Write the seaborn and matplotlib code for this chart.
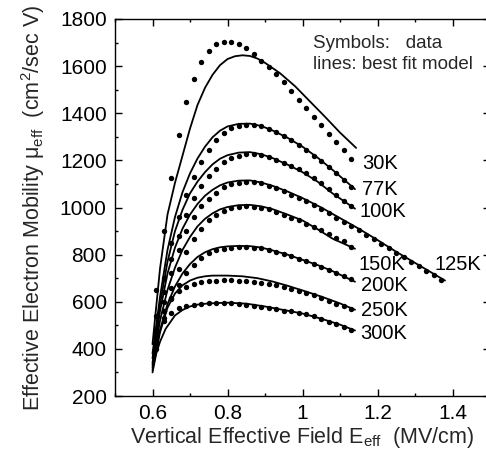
import numpy as np
import pandas as pd
import matplotlib
matplotlib.use("Agg")
import matplotlib.pyplot as plt
import seaborn as sns

# ---------------- data ----------------
x_dots = [0.61, 0.63, 0.65, 0.67, 0.69, 0.71, 0.73, 0.75, 0.77, 0.79, 0.81, 0.83,
          0.85, 0.87, 0.89, 0.91, 0.93, 0.95, 0.97, 0.99, 1.01, 1.03, 1.05, 1.07,
          1.09, 1.11, 1.13]
x_dots_125 = x_dots + [1.15, 1.17, 1.19, 1.21, 1.23, 1.25, 1.27, 1.29, 1.31, 1.33, 1.35, 1.37]

dots_30K = [648, 901, 1127, 1307, 1446, 1546, 1618, 1665, 1694, 1704, 1704, 1694,
            1676, 1652, 1623, 1596, 1568, 1532, 1496, 1458, 1423, 1385, 1349, 1314,
            1277, 1244, 1207]
dots_77K = [540, 700, 850, 960, 1055, 1130, 1195, 1245, 1285, 1318, 1338, 1348,
            1352, 1350, 1344, 1334, 1320, 1305, 1285, 1265, 1243, 1220, 1196, 1170,
            1145, 1115, 1085]
dots_100K = [480, 640, 780, 880, 970, 1040, 1092, 1132, 1165, 1193, 1208, 1218,
             1225, 1225, 1221, 1213, 1203, 1190, 1178, 1163, 1148, 1126, 1102, 1078,
             1053, 1029, 1005]
dots_125K = [450, 600, 720, 820, 900, 960, 1005, 1035, 1060, 1085, 1098, 1106,
             1110, 1108, 1102, 1092, 1081, 1068, 1055, 1042, 1026, 1010, 993, 975,
             957, 940, 922, 903, 884, 865, 846, 827, 808, 789, 770, 751, 732, 713, 694]
dots_150K = [420, 560, 660, 740, 810, 865, 910, 945, 968, 985, 996, 1002,
             1005, 1004, 1000, 992, 982, 970, 957, 945, 932, 918, 903, 888,
             872, 856, 832]
dots_200K = [400, 520, 610, 670, 720, 755, 785, 805, 818, 825, 829, 831,
             832, 830, 826, 820, 812, 803, 793, 782, 771, 760, 748, 736,
             723, 710, 697]
dots_250K = [440, 560, 615, 645, 663, 675, 683, 688, 690, 691, 691, 690,
             688, 685, 681, 676, 669, 662, 655, 647, 639, 627, 615, 604,
             592, 580, 568]
dots_300K = [470, 530, 553, 572, 582, 588, 591, 593, 594, 594, 593, 591,
             588, 584, 579, 574, 568, 562, 560, 554, 548, 538, 527, 515,
             504, 492, 480]

xl_30K = [0.60, 0.62, 0.64, 0.66, 0.68, 0.70, 0.72, 0.74, 0.76, 0.78, 0.80, 0.82,
          0.84, 0.86, 0.88, 0.90, 0.94, 0.98, 1.02, 1.06, 1.10, 1.143]
line_30K = [420, 740, 970, 1105, 1220, 1335, 1435, 1508, 1563, 1604, 1630, 1642,
            1646, 1643, 1632, 1614, 1570, 1515, 1450, 1385, 1318, 1253]
xl_mid = [0.60, 0.62, 0.64, 0.66, 0.68, 0.70, 0.72, 0.74, 0.76, 0.78, 0.80, 0.83,
          0.86, 0.89, 0.92, 0.96, 1.00, 1.04, 1.08, 1.14]
line_77K = [380, 620, 820, 960, 1065, 1145, 1208, 1258, 1298, 1326, 1344, 1355,
            1356, 1346, 1327, 1296, 1258, 1212, 1160, 1078]
line_100K = [360, 590, 770, 900, 990, 1060, 1110, 1150, 1183, 1207, 1222, 1233,
             1235, 1226, 1210, 1182, 1150, 1110, 1060, 995]
xl_125K = [0.60, 0.62, 0.64, 0.66, 0.68, 0.70, 0.72, 0.74, 0.76, 0.78, 0.80, 0.83,
           0.86, 0.89, 0.92, 0.96, 1.00, 1.05, 1.10, 1.15, 1.20, 1.25, 1.30, 1.38]
line_125K = [340, 560, 720, 830, 910, 970, 1015, 1050, 1075, 1094, 1106, 1114,
             1115, 1106, 1092, 1068, 1040, 1000, 955, 910, 862, 812, 765, 690]
line_150K = [330, 520, 650, 745, 820, 875, 920, 952, 975, 992, 1002, 1010,
             1011, 1005, 993, 970, 945, 908, 868, 825]
line_200K = [320, 480, 590, 665, 720, 760, 790, 810, 823, 831, 835, 837,
             836, 830, 818, 800, 778, 756, 730, 685]
xl_250K = [0.60, 0.62, 0.64, 0.66, 0.68, 0.70, 0.72, 0.74, 0.76, 0.80, 0.84, 0.88,
           0.92, 0.96, 1.00, 1.05, 1.10, 1.14]
line_250K = [310, 470, 575, 635, 670, 690, 702, 708, 711, 711, 708, 700,
             686, 668, 648, 622, 593, 566]
xl_300K = [0.60, 0.61, 0.62, 0.635, 0.66, 0.68, 0.70, 0.72, 0.75, 0.80, 0.85, 0.90,
           0.95, 1.00, 1.05, 1.10, 1.14]
line_300K = [300, 380, 430, 485, 542, 565, 580, 588, 593, 596, 592, 580,
             565, 550, 528, 503, 478]

labels = ["30K", "77K", "100K", "125K", "150K", "200K", "250K", "300K"]
label_x = [1.158, 1.158, 1.153, 1.352, 1.150, 1.155, 1.155, 1.155]
label_y = [1187, 1077, 983, 756, 756, 669, 563, 465]

x_ticks = [0.6, 0.8, 1.0, 1.2, 1.4]
x_ticklabels = ["0.6", "0.8", "1", "1.2", "1.4"]
y_ticks = [200, 400, 600, 800, 1000, 1200, 1400, 1600, 1800]

# ---------------- build tables ----------------
dot_sets = [(x_dots, dots_30K), (x_dots, dots_77K), (x_dots, dots_100K),
            (x_dots_125, dots_125K), (x_dots, dots_150K), (x_dots, dots_200K),
            (x_dots, dots_250K), (x_dots, dots_300K)]
line_sets = [(xl_30K, line_30K), (xl_mid, line_77K), (xl_mid, line_100K),
             (xl_125K, line_125K), (xl_mid, line_150K), (xl_mid, line_200K),
             (xl_250K, line_250K), (xl_300K, line_300K)]

dots_df = pd.concat([pd.DataFrame({"E": xs, "mu": ys, "T": lab})
                     for (xs, ys), lab in zip(dot_sets, labels)], ignore_index=True)
lines_df = pd.concat([pd.DataFrame({"E": xs, "mu": ys, "T": lab})
                      for (xs, ys), lab in zip(line_sets, labels)], ignore_index=True)

# ---------------- plot ----------------
sns.set_theme(style="ticks")
plt.rcParams["font.family"] = ["Liberation Sans", "DejaVu Sans"]
plt.rcParams["mathtext.fontset"] = "custom"
plt.rcParams["mathtext.rm"] = "Liberation Sans"
plt.rcParams["mathtext.it"] = "Liberation Sans:italic"

fig = plt.figure(figsize=(4.86, 4.55), dpi=100)
ax = fig.add_axes([115 / 486, 59 / 455, 375 / 486, 377 / 455])

sns.lineplot(data=lines_df, x="E", y="mu", units="T", estimator=None, sort=False,
             color="black", linewidth=1.3, ax=ax, legend=False)
sns.scatterplot(data=dots_df, x="E", y="mu", color="black", s=15, linewidth=0,
                ax=ax, legend=False)

for lab, lx, ly in zip(labels, label_x, label_y):
    ax.text(lx, ly, lab, fontsize=14.5, va="center", ha="left", color="black")

ax.text(1.029, 1697, "Symbols:   data", fontsize=13.5, va="center", ha="left")
ax.text(1.029, 1606, "lines: best fit model", fontsize=13.5, va="center", ha="left")

ax.set_xlim(0.5, 1.5)
ax.set_ylim(200, 1800)
ax.set_xticks(x_ticks)
ax.set_xticklabels(x_ticklabels)
ax.set_yticks(y_ticks)
ax.set_xticks(np.arange(0.5, 1.51, 0.1), minor=True)
ax.set_yticks(np.arange(200, 1801, 100), minor=True)
ax.tick_params(which="both", direction="in", top=True, right=True,
               labelsize=15, colors="black", width=1.0)
ax.tick_params(which="major", length=5, pad=6)
ax.tick_params(which="minor", length=2.5)
for sp in ax.spines.values():
    sp.set_linewidth(1.0)
    sp.set_color("black")

ax.set_xlabel(r"Vertical Effective Field E$_{\mathrm{eff}}$  (MV/cm)", fontsize=15.5, labelpad=1)
ax.set_ylabel(r"Effective Electron Mobility μ$_{\mathrm{eff}}$  (cm$^2$/sec V)",
              fontsize=15.5, labelpad=9)

fig.savefig("out.png", dpi=100)
